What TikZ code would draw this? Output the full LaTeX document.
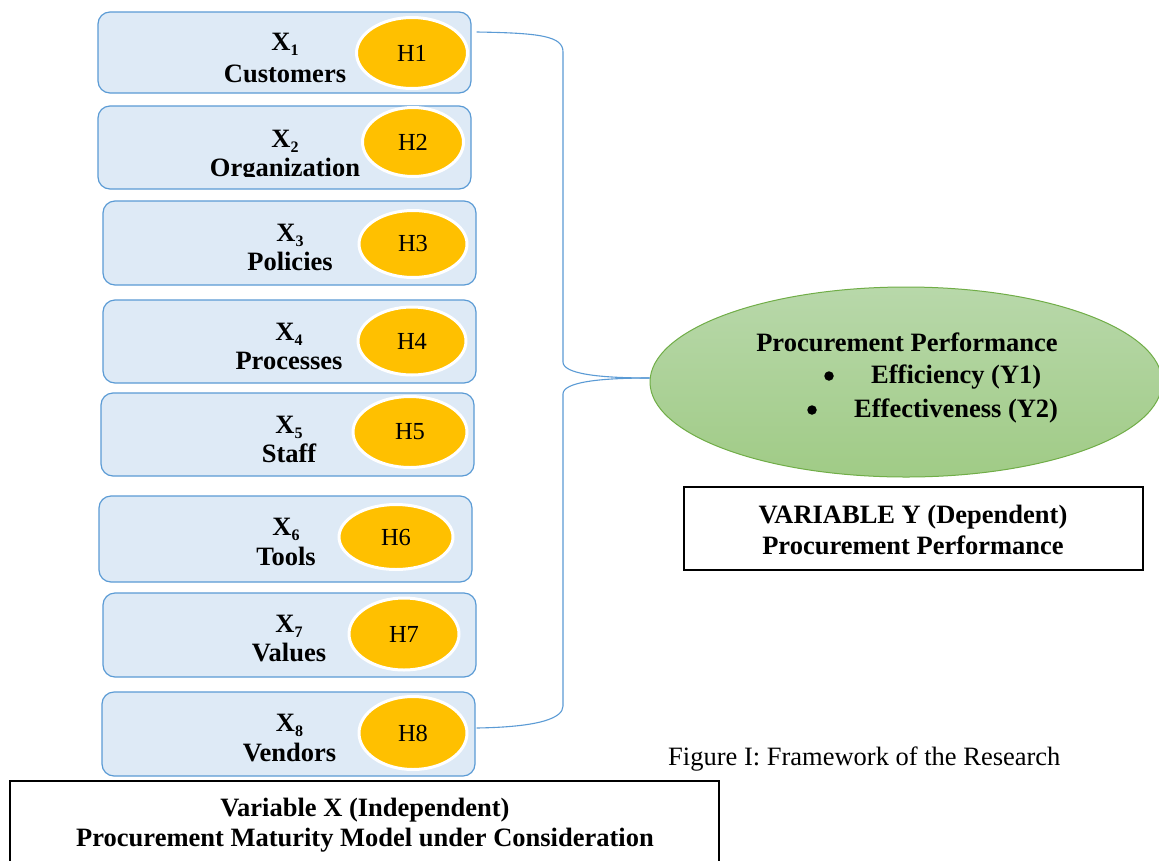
\documentclass[tikz,border=0pt]{standalone}
\usepackage{fontspec}
\setmainfont{Liberation Serif}
\usetikzlibrary{shapes.geometric}
\definecolor{boxfill}{HTML}{DEEAF6}
\definecolor{boxline}{HTML}{5B9BD5}
\definecolor{hfill}{HTML}{FFC000}
\definecolor{gtop}{HTML}{B8D8AA}
\definecolor{gbot}{HTML}{A0CB86}
\definecolor{gline}{HTML}{70AD47}
\newcommand{\xs}[1]{X\raisebox{-5pt}{\fontsize{16}{16}\selectfont #1}}
\begin{document}
\begin{tikzpicture}[x=1pt,y=-1pt,
  xbox/.style={draw=boxline, fill=boxfill, rounded corners=12pt, line width=1.2pt, minimum width=373pt, inner sep=0pt},
  hell/.style={ellipse, fill=hfill, draw=white, line width=3pt, inner sep=0pt, font=\fontsize{24.5}{24.5}\selectfont},
  lbl/.style={font=\bfseries\fontsize{26.5}{30}\selectfont, inner sep=0pt, anchor=base},
  plain/.style={font=\fontsize{26.5}{30}\selectfont, inner sep=0pt},
  bul/.style={circle, fill=black, minimum size=9.5pt, inner sep=0pt},
  conn/.style={draw=boxline, line width=1.1pt},
  frame/.style={draw=black, line width=2pt, inner sep=0pt}]
\useasboundingbox (0,0) rectangle (1159,860);
\fill[white] (0,0) rectangle (1159,860);

% boxes
\node[xbox, minimum height=81pt] (b1) at (284.5,52.5) {};
\node[xbox, minimum height=83pt] (b2) at (284.5,147.5) {};
\node[xbox, minimum height=84pt] (b3) at (289.5,243) {};
\node[xbox, minimum height=83pt] (b4) at (289.5,341.5) {};
\node[xbox, minimum height=83pt] (b5) at (287.5,434.5) {};
\node[xbox, minimum height=86pt] (b6) at (285.5,539) {};
\node[xbox, minimum height=84pt] (b7) at (289.5,635) {};
\node[xbox, minimum height=84pt] (b8) at (288.5,734) {};

% box labels
\node[lbl] (x1) at (285,50) {\xs{1}};
\node[lbl] (n1) at (285,82) {Customers};
\node[lbl] (x2) at (285,147) {\xs{2}};
\begin{scope}
\clip (95,100) rectangle (480,176);
\node[lbl] (n2) at (285,176) {Organization};
\end{scope}
\node[lbl] (x3) at (290,241) {\xs{3}};
\node[lbl] (n3) at (290,270) {Policies};
\node[lbl] (x4) at (289,340) {\xs{4}};
\node[lbl] (n4) at (289,369) {Processes};
\node[lbl] (x5) at (289,433) {\xs{5}};
\node[lbl] (n5) at (289,462) {Staff};
\node[lbl] (x6) at (286,535) {\xs{6}};
\node[lbl] (n6) at (286,565) {Tools};
\node[lbl] (x7) at (289,632) {\xs{7}};
\node[lbl] (n7) at (289,661) {Values};
\node[lbl] (x8) at (289.5,731) {\xs{8}};
\node[lbl] (n8) at (289.5,761) {Vendors};

% H ellipses
\node[hell, minimum width=111pt, minimum height=71pt] (h1) at (412,53) {H1};
\node[hell, minimum width=101pt, minimum height=69pt] (h2) at (413,142) {H2};
\node[hell, minimum width=108pt, minimum height=67pt] (h3) at (413,244) {H3};
\node[hell, minimum width=108pt, minimum height=68pt] (h4) at (412,341) {H4};
\node[hell, minimum width=114pt, minimum height=71pt] (h5) at (410,432) {H5};
\node[hell, minimum width=114pt, minimum height=65pt] (h6) at (396,537) {H6};
\node[hell, minimum width=110pt, minimum height=72pt] (h7) at (404,634) {H7};
\node[hell, minimum width=108pt, minimum height=73pt] (h8) at (413,733) {H8};

% dependent ellipse
\node[ellipse, draw=gline, line width=1pt, top color=gtop, bottom color=gbot,
      minimum width=512pt, minimum height=190pt, inner sep=0pt] (Y) at (906,382) {};
\node[lbl] (yt) at (907,351) {Procurement Performance};
\node[bul] (yb1) at (829,376) {};
\node[lbl, anchor=base west] (y1) at (871,383) {Efficiency (Y1)};
\node[bul] (yb2) at (812,410) {};
\node[lbl, anchor=base west] (y2) at (854,417) {Effectiveness (Y2)};

% connectors
\draw[conn] ([shift={(5,-20.5)}]b1.east) .. controls (540,33) and (563,36) .. (563,52)
  -- (563,362) .. controls (563,374) and (600,378) .. ([shift={(0,-4)}]Y.west);
\draw[conn] ([shift={(0,-4)}]Y.west) .. controls (600,378) and (563,382) .. (563,394)
  -- (563,706) .. controls (563,718) and (540,727) .. ([shift={(1,-6)}]b8.east);

% Y frame
\node[frame, minimum width=459pt, minimum height=83pt] (yf) at (913.5,528.5) {};
\node[lbl] (yf1) at (913,523) {VARIABLE Y (Dependent)};
\node[lbl] (yf2) at (913,554) {Procurement Performance};

% caption
\node[plain, anchor=base west] (cap) at (668,765) {Figure I: Framework of the Research};

% X frame
\node[frame, minimum width=709pt, minimum height=98pt] (xf) at (364.5,830) {};
\node[lbl] (xf1) at (365,816) {Variable X (Independent)};
\node[lbl] (xf2) at (365,846) {Procurement Maturity Model under Consideration};
\end{tikzpicture}
\end{document}
